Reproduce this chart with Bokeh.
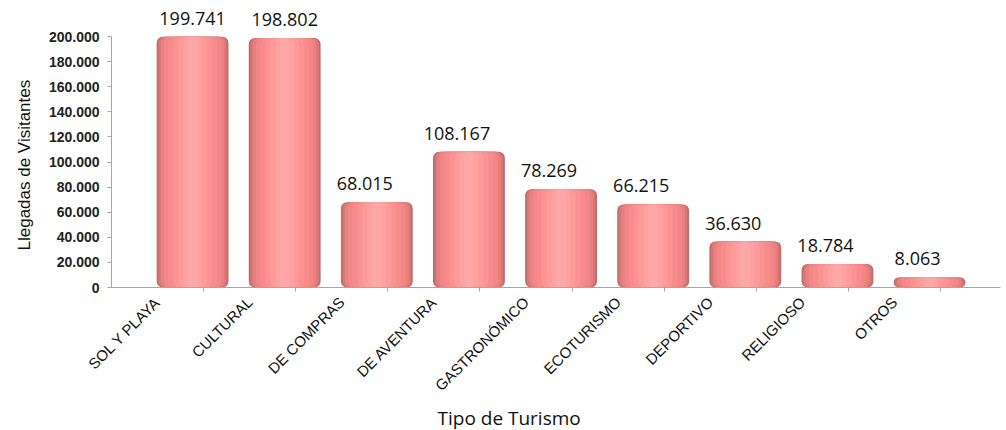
from bokeh.plotting import figure
from bokeh.models import ColumnDataSource, Range1d, FixedTicker, Title
from bokeh.core.properties import value
from bokeh.embed import file_html
from bokeh.resources import INLINE
import math

categories = ["SOL Y PLAYA", "CULTURAL", "DE COMPRAS", "DE AVENTURA", "GASTRONÓMICO",
              "ECOTURISMO", "DEPORTIVO", "RELIGIOSO", "OTROS"]
visitors = [199741, 198802, 68015, 108167, 78269, 66215, 36630, 18784, 8063]
y_ticks = [0, 20000, 40000, 60000, 80000, 100000, 120000, 140000, 160000, 180000, 200000]


def fmt(v):
    return f"{v:,}".replace(",", ".")


n = len(categories)
label_pos = [i + 0.5 for i in range(n)]
bar_pos = [i + 0.5 + 0.38 for i in range(n)]
label_shift = [0, 0, -12, -12, -12, -12, -12, -12, -12]

src = ColumnDataSource(dict(
    x=bar_pos, top=visitors, lab=[fmt(v) for v in visitors], dx=label_shift,
))

p = figure(width=1006, height=430, x_range=Range1d(0, 9.65), y_range=Range1d(0, 228700),
           output_backend="svg", toolbar_location=None, title=None,
           min_border_left=111, min_border_right=6, min_border_top=0, min_border_bottom=143)
p.outline_line_color = None
p.xgrid.visible = False
p.ygrid.visible = False
p.background_fill_color = "white"

bw = 0.78
layers = [(1.00, "#c26c6c"), (0.95, "#d87777"), (0.89, "#e98080"), (0.80, "#f38686"),
          (0.68, "#f88c8c"), (0.54, "#fb9393"), (0.40, "#fd9a9a"), (0.26, "#fea1a1"),
          (0.14, "#fea7a7")]
for frac, col in layers:
    p.vbar(x="x", top="top", bottom=0, width=bw * frac, source=src,
           fill_color=col, line_color=None, border_radius=6)

p.text(x="x", y="top", text="lab", source=src, x_offset="dx", y_offset=-12,
       text_align="center", text_baseline="bottom",
       text_font=value("Open Sans"), text_font_size="18px", text_color="#111111")

# y axis
ya = p.yaxis[0]
ya.bounds = (0, 200000)
ya.ticker = FixedTicker(ticks=y_ticks, minor_ticks=[])
ya.major_label_overrides = {t: fmt(t) for t in y_ticks}
ya.major_label_text_font = "Liberation Sans"
ya.major_label_text_font_style = "bold"
ya.major_label_text_font_size = "14px"
ya.major_label_text_color = "#222222"
ya.major_label_standoff = 8
ya.axis_line_color = "#a6a6a6"
ya.major_tick_line_color = "#a6a6a6"
ya.major_tick_out = 4
ya.major_tick_in = 0

# x axis
xa = p.xaxis[0]
xa.ticker = FixedTicker(ticks=label_pos, minor_ticks=[float(i) for i in range(1, n + 1)])
xa.major_label_overrides = {lp: c for lp, c in zip(label_pos, categories)}
xa.major_label_orientation = math.pi / 4
xa.major_label_text_font = "Liberation Sans"
xa.major_label_text_font_size = "15px"
xa.major_label_text_color = "#111111"
xa.major_label_standoff = 8
xa.axis_line_color = "#a6a6a6"
xa.major_tick_out = 0
xa.major_tick_in = 0
xa.minor_tick_out = 4
xa.minor_tick_in = 0
xa.minor_tick_line_color = "#a6a6a6"

p.add_layout(Title(text="Tipo de Turismo", align="left", offset=326, standoff=0,
                   text_font="Open Sans", text_font_size="19px", text_font_style="normal",
                   text_line_height=1.0, text_color="#111111"), "below")
p.add_layout(Title(text="Llegadas de Visitantes", align="left", offset=37, standoff=24,
                   text_font="Liberation Sans", text_font_size="17px", text_font_style="normal",
                   text_color="#111111"), "left")

open("out.html", "w").write(file_html(p, INLINE))
